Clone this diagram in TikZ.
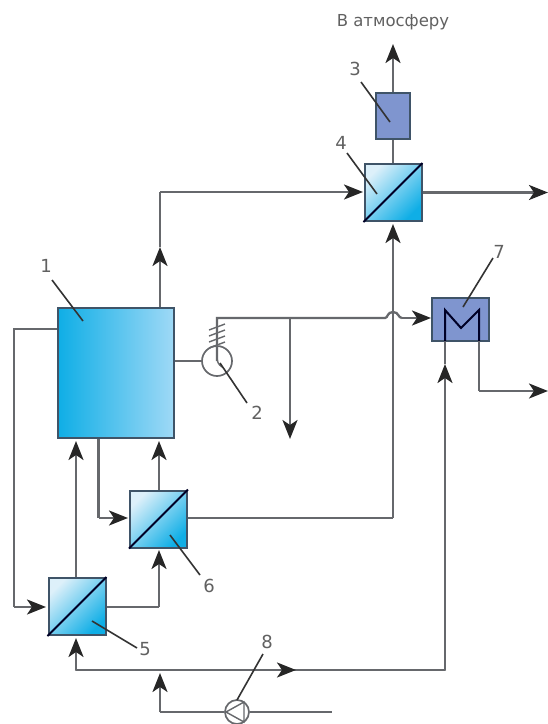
\documentclass[tikz,border=0pt]{standalone}
\usepackage{fontspec}
\setmainfont{DejaVu Sans}
\usetikzlibrary{arrows.meta}
\definecolor{pipec}{HTML}{66686C}
\definecolor{edgec}{HTML}{3F5468}
\definecolor{lilac}{HTML}{7F95CF}
\definecolor{deepb}{HTML}{0FAEE6}
\definecolor{paleb}{HTML}{DDF0FA}
\definecolor{midb}{HTML}{7CCDF2}
\definecolor{lightb}{HTML}{9FD9F6}
\tikzset{
  pipe/.style={draw=pipec,line width=2.3pt},
  tip/.style={pipe,-{Stealth[length=19pt,width=15pt,inset=5pt,color=black!85]}},
  leader/.style={draw=black!80,line width=1.6pt},
  num/.style={text=black!62,font=\fontsize{18}{18}\selectfont,inner sep=0pt},
  membrane/.style={rectangle,draw=edgec,line width=2pt,minimum width=57pt,minimum height=57pt,inner sep=0pt,
    shade,top color=paleb,bottom color=deepb,shading angle=45},
  unitbox/.style={rectangle,draw=edgec,line width=2pt,fill=lilac,inner sep=0pt},
  mline/.style={draw=black!85!blue,line width=2pt},
}
\begin{document}
\begin{tikzpicture}[x=1pt,y=-1pt]
\useasboundingbox (0,0) rectangle (548,724);
\fill[white] (0,0) rectangle (548,724);
% fixed joints
\coordinate (topTip) at (393,44);
\coordinate (c1a) at (160,192);
\coordinate (c1b) at (160,247);
\coordinate (tip4) at (363,192);
\coordinate (out4) at (548,192.5);
\coordinate (tip4b) at (393,224);
\coordinate (c6r) at (393,518);
\coordinate (s1) at (217,318);
\coordinate (b1) at (385,318);
\coordinate (b2) at (402,318);
\coordinate (tip7) at (431,318);
\coordinate (br) at (290,318);
\coordinate (brTip) at (290,439);
\coordinate (c7o) at (479,391);
\coordinate (out7) at (548,391);
\coordinate (c7in) at (445,670);
\coordinate (tip7b) at (445,364);
\coordinate (c5in) at (76,670);
\coordinate (tip5b) at (76,638);
\coordinate (midTip) at (296,670);
\coordinate (tipJ) at (160,673);
\coordinate (cp) at (160,712);
\coordinate (endp) at (332,712);
\coordinate (l1) at (14,329);
\coordinate (l2) at (14,607);
\coordinate (tip5l) at (46,607);
\coordinate (tip1a) at (76,441);
\coordinate (c5r) at (159,607);
\coordinate (tip6b) at (159,550);
\coordinate (tip1b) at (159,441);
\coordinate (c1d) at (98.5,518);
\coordinate (tip6l) at (128,518);
% units
\node[rectangle,draw=edgec,line width=2pt,minimum width=116pt,minimum height=130pt,inner sep=0pt,
  left color=deepb,middle color=midb,right color=lightb] (r1) at (116,372.5) {};
\node[unitbox,minimum width=34pt,minimum height=46pt] (u3) at (393,116) {};
\node[membrane] (m4) at (393,192.5) {};
\node[unitbox,minimum width=57pt,minimum height=43pt] (u7) at (460.5,319.5) {};
\node[membrane] (m6) at (158.5,519) {};
\node[membrane] (m5) at (77,606.5) {};
\node[circle,draw=pipec,line width=1.7pt,minimum size=30pt,inner sep=0pt] (p2) at (217,361) {};
\node[circle,draw=pipec,line width=1.7pt,minimum size=24pt,inner sep=0pt] (p8) at (237,712) {};
% 3 up
\draw[tip] (u3.north) -- (topTip);
\draw[pipe] (m4.north) -- (u3.south);
% 1 -> 4
\draw[tip] (r1.north -| c1a) -- (c1b);
\draw[pipe] (c1b) -- (c1a);
\draw[tip] (c1a) -- (tip4);
% 4 right
\draw[tip] (m4.east) -- (out4);
% 6 -> 4
\draw[pipe] (m6.east |- c6r) -- (c6r);
\draw[tip] (c6r) -- (tip4b);
% 2 -> 7 with hop
\draw[pipe] (p2.center) -- (s1) -- (b1) .. controls (388,318) and (387,312) .. (393,312) .. controls (399,312) and (398,318) .. (b2);
\draw[tip] (b2) -- (tip7);
\draw[tip] (br) -- (brTip);
\draw[pipe,line width=1.6pt] (r1.east |- p2) -- (p2.west);
\foreach \yy in {327,333,339,345} \draw[pipe,line width=1.4pt] (209,\yy+3) -- (225,\yy-3);
\draw[pipe,line width=1.4pt] (217,355) .. controls (217,362) and (218,364) .. (222,367);
% 7 coil and outlet
\draw[tip] (c7in) -- (tip7b);
\draw[pipe] (445,341) -- (tip7b);
\draw[mline] (445,341) -- (445,310) -- (461,328) -- (479,310) -- (479,341);
\draw[pipe] (479,341) -- (c7o);
\draw[tip] (c7o) -- (out7);
% bottom main
\draw[pipe,line cap=round] (c5in) -- (c7in);
\draw[tip] (c5in) -- (midTip);
\draw[tip] (c5in) -- (tip5b);
\draw[tip] (cp) -- (tipJ);
\draw[pipe] (p8.west) -- (cp);
\draw[pipe] (p8.east) -- (endp);
\draw[pipe,line width=1.4pt] (226,712) -- (244,702) -- (244,722) -- cycle;
% 1 -> 5 recycle
\draw[pipe] (r1.west |- l1) -- (l1) -- (l2);
\draw[tip] (l2) -- (tip5l);
% 5 -> 1
\draw[tip] (m5.north -| tip1a) -- (tip1a);
% 5 -> 6
\draw[pipe] (m5.east |- c5r) -- (c5r);
\draw[tip] (c5r) -- (tip6b);
% 6 -> 1
\draw[tip] (m6.north -| tip1b) -- (tip1b);
% 1 -> 6
\draw[pipe] (r1.south -| c1d) -- (c1d);
\draw[tip] (c1d) -- (tip6l);
% membranes
\foreach \m in {m4,m5,m6} \draw[mline] (\m.south west) -- (\m.north east);
% labels
\node[num,font=\fontsize{16.5}{16.5}\selectfont] (t0) at (393,22) {В атмосферу};
\node[num] (n1) at (46,266) {1};
\node[num] (n2) at (257,413) {2};
\node[num] (n3) at (355,69) {3};
\node[num] (n4) at (341,143) {4};
\node[num] (n5) at (145,649) {5};
\node[num] (n6) at (209,586) {6};
\node[num] (n7) at (499,252) {7};
\node[num] (n8) at (267,642) {8};
% leaders
\coordinate (a1) at (83,321);
\coordinate (a2) at (220,363);
\coordinate (a3) at (390,122);
\coordinate (a4) at (377,194);
\coordinate (a5) at (92,621);
\coordinate (a6) at (170,535);
\coordinate (a7) at (463,307);
\coordinate (a8) at (237,700);
\draw[leader] (52,280) -- (a1);
\draw[leader] (247,403) -- (a2);
\draw[leader] (361,82) -- (a3);
\draw[leader] (347,153) -- (a4);
\draw[leader] (137,648) -- (a5);
\draw[leader] (200,575) -- (a6);
\draw[leader] (493,258) -- (a7);
\draw[leader] (263,654) -- (a8);
\end{tikzpicture}
\end{document}
